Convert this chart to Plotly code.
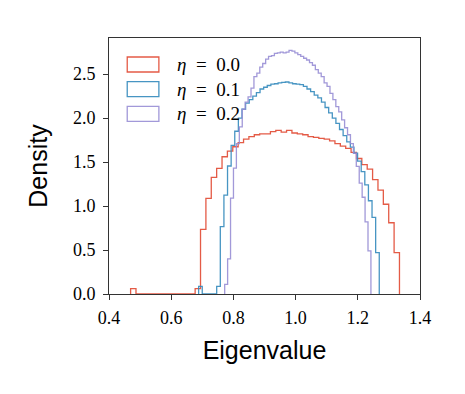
import numpy as np
import plotly.graph_objects as go

# step histograms of eigenvalue density (50 bins each, density-normalised)
etas = ["0.0", "0.1", "0.2"]
colors = ["#E24A33", "#348ABD", "#988ED5"]

# bin range (first edge, last edge)
red_range = (0.4695, 1.334)
blue_range = (0.6882, 1.269)
purple_range = (0.772, 1.2422)

red_vals = [0.06, 0, 0, 0, 0, 0, 0, 0, 0, 0, 0, 0, 0.06,
            0.735, 1.087, 1.326, 1.428, 1.56, 1.625, 1.674, 1.72, 1.76, 1.79,
            1.81, 1.82, 1.82, 1.845, 1.86, 1.84, 1.86, 1.83, 1.82, 1.81,
            1.79, 1.78, 1.77, 1.76, 1.74, 1.71, 1.68, 1.655, 1.61, 1.54,
            1.47, 1.42, 1.30, 1.18, 1.02, 0.81, 0.47]
blue_vals = [0.086, 0, 0, 0, 0, 0.086,
             0.765, 1.125, 1.455, 1.69, 1.85, 2.00, 2.10, 2.17, 2.21, 2.25,
             2.29, 2.33, 2.35, 2.37, 2.385, 2.39, 2.40, 2.405, 2.41, 2.40,
             2.39, 2.385, 2.38, 2.36, 2.33, 2.30, 2.26, 2.23, 2.18, 2.12,
             2.06, 2.00, 1.94, 1.87, 1.80, 1.73, 1.67, 1.60, 1.51, 1.39,
             1.24, 1.06, 0.87, 0.47]
purple_vals = [0.11, 0.40, 1.09, 1.43, 1.71, 1.90, 2.10, 2.18, 2.24, 2.34,
               2.47, 2.51, 2.58, 2.62, 2.67, 2.70, 2.71, 2.735, 2.74, 2.75,
               2.74, 2.75, 2.77, 2.76, 2.74, 2.72, 2.70, 2.68, 2.66, 2.63,
               2.60, 2.55, 2.51, 2.47, 2.40, 2.36, 2.28, 2.21, 2.13, 2.07,
               1.98, 1.89, 1.81, 1.71, 1.60, 1.45, 1.26, 1.10, 0.82, 0.49]

x_ticks = [0.4, 0.6, 0.8, 1.0, 1.2, 1.4]
y_ticks = [0.0, 0.5, 1.0, 1.5, 2.0, 2.5]

series = [(red_range, red_vals), (blue_range, blue_vals), (purple_range, purple_vals)]

fig = go.Figure()
for (rng, vals), col in zip(series, colors):
    edges = np.linspace(rng[0], rng[1], len(vals) + 1)
    xs = [edges[0]] + list(edges)
    ys = [0] + list(vals) + [0]
    fig.add_trace(go.Scatter(x=xs, y=ys, mode="lines", line_shape="hv",
                             line=dict(color=col, width=1.3), opacity=0.9,
                             showlegend=False, hoverinfo="skip"))

# hand-made legend: outlined patches + labels (paper coords)
px0, pw, py0, ph = 109.5, 310.5, 294.0, 256.0
def to_paper(x, y):
    return (x - px0) / pw, (py0 - y) / ph

for i, (eta, col) in enumerate(zip(etas, colors)):
    top = 57 + i * 24.7
    xa, ya = to_paper(127.7, top)
    xb, yb = to_paper(159.3, top + 15)
    fig.add_shape(type="rect", xref="paper", yref="paper", x0=xa, x1=xb, y0=yb, y1=ya,
                  line=dict(color=col, width=1.3), fillcolor="rgba(0,0,0,0)", opacity=0.9)
    tx, ty = to_paper(175, top + 7.5)
    fig.add_annotation(xref="paper", yref="paper", x=tx, y=ty, xanchor="left", yanchor="middle",
                       text="<i>η</i>\u2002=\u2002" + eta, showarrow=False,
                       font=dict(family="Liberation Serif", size=19, color="black"))

axis_common = dict(showline=True, linecolor="#333333", linewidth=1, mirror=True,
                   ticks="outside", ticklen=5, tickcolor="#333333", showgrid=False,
                   zeroline=False, tickformat=".1f",
                   tickfont=dict(family="Liberation Serif", size=18, color="black"))

fig.update_xaxes(range=[0.4, 1.4], tickvals=x_ticks, ticklabelstandoff=2, **axis_common,
                 title=dict(text="Eigenvalue", standoff=14,
                            font=dict(family="Liberation Sans", size=25, color="black")))
fig.update_yaxes(range=[0, 2.91], tickvals=y_ticks, ticklabelstandoff=4, **axis_common,
                 title=dict(text="Density", standoff=18,
                            font=dict(family="Liberation Sans", size=25, color="black")))

# the page adds an 8px body margin, so the margins are shifted to compensate
fig.update_layout(width=465, height=394, margin=dict(l=101, r=53, t=30, b=108),
                  plot_bgcolor="white", paper_bgcolor="white", showlegend=False)

fig.write_html("out.html")
